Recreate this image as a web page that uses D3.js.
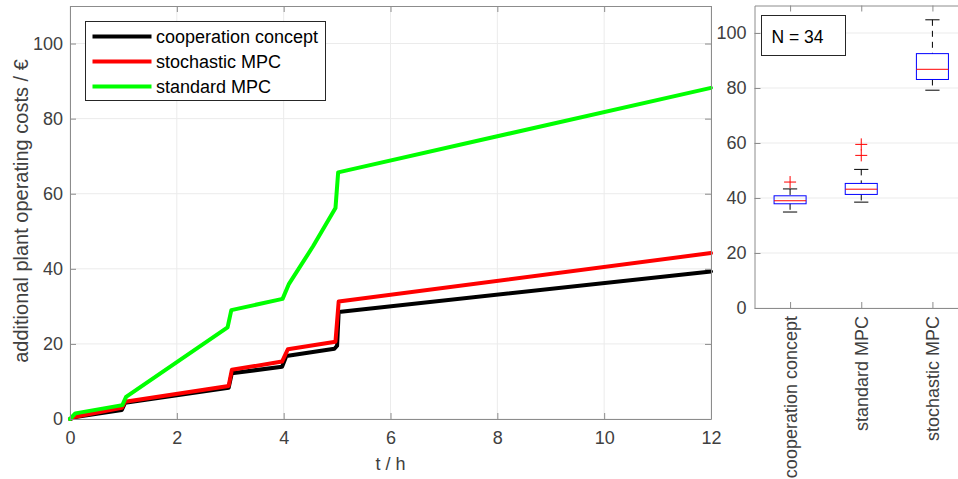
<!DOCTYPE html>
<html>
<head>
<meta charset="utf-8">
<script src="https://cdn.jsdelivr.net/npm/d3@7"></script>
<style>
  body { margin: 0; background: #fff; }
  svg { display: block; font-family: "Liberation Sans", Arial, sans-serif; }
</style>
</head>
<body>
<svg id="chart" width="958" height="479"></svg>
<script>
// time series (t in h, cost in €)
var coopT    = [0, 0.1, 0.97, 1.03, 2.97, 3.03, 3.97, 4.05, 4.95, 5.0, 5.03, 12];
var coopCost = [0, 0.5, 2.4, 4.3, 8.3, 12.2, 13.9, 16.8, 18.7, 19.5, 28.5, 39.3];
var stochT    = [0, 0.1, 0.97, 1.03, 2.97, 3.03, 3.97, 4.08, 4.97, 5.03, 12];
var stochCost = [0, 0.6, 3.0, 4.6, 8.8, 13.1, 15.3, 18.6, 20.6, 31.3, 44.2];
var stdT    = [0, 0.1, 0.98, 1.05, 2.95, 3.02, 3.98, 4.1, 4.55, 4.97, 5.02, 12];
var stdCost = [0, 1.5, 3.7, 5.9, 24.4, 29.0, 32.0, 36.0, 46.0, 56.2, 65.7, 88.2];
var seriesNames  = ['cooperation concept', 'stochastic MPC', 'standard MPC'];
var seriesColors = ['#000000', '#ff0000', '#00ff00'];

// box plot statistics (N = 34)
var boxCats     = ['cooperation concept', 'standard MPC', 'stochastic MPC'];
var boxLowWhisk = [34.9, 38.5, 79.2];
var boxQ1       = [37.9, 41.3, 83.1];
var boxMedian   = [39.0, 43.2, 86.8];
var boxQ3       = [40.8, 45.3, 92.5];
var boxHighWhisk= [43.3, 50.4, 104.8];
var boxOutliers = [[45.8], [55.5, 59.5], []];

var xTicks = [0, 2, 4, 6, 8, 10, 12];
var yTicks = [0, 20, 40, 60, 80, 100];

var svg = d3.select('#chart');
var axisCol = '#8c8c8c', textCol = '#404040', gridCol = '#ebebeb';

// ---------- left axes ----------
var L = {left: 70, right: 711, top: 6, bottom: 419};
var x = d3.scaleLinear().domain([0, 12]).range([L.left, L.right]);
var y = d3.scaleLinear().domain([0, 110]).range([L.bottom, L.top]);

var gl = svg.append('g');
gl.selectAll('.vg').data(xTicks).enter().append('line')
  .attr('x1', function(d) { return x(d); }).attr('x2', function(d) { return x(d); })
  .attr('y1', L.top).attr('y2', L.bottom).attr('stroke', gridCol);
gl.selectAll('.hg').data(yTicks).enter().append('line')
  .attr('y1', function(d) { return y(d); }).attr('y2', function(d) { return y(d); })
  .attr('x1', L.left).attr('x2', L.right).attr('stroke', gridCol);

var line = d3.line().x(function(d) { return x(d[0]); }).y(function(d) { return y(d[1]); });
var series = [d3.zip(coopT, coopCost), d3.zip(stochT, stochCost), d3.zip(stdT, stdCost)];
gl.selectAll('.ser').data(series).enter().append('path')
  .attr('d', line).attr('fill', 'none')
  .attr('stroke', function(d, i) { return seriesColors[i]; })
  .attr('stroke-width', 4).attr('stroke-linejoin', 'round').attr('stroke-linecap', 'round');

function styleAxis(g) {
  g.selectAll('path.domain').attr('stroke', axisCol);
  g.selectAll('.tick line').attr('stroke', axisCol);
  g.selectAll('.tick text').attr('fill', textCol).style('font-size', '18px')
    .style('font-family', '"Liberation Sans", Arial, sans-serif');
}
gl.append('g').attr('transform', 'translate(0,' + L.bottom + ')')
  .call(d3.axisBottom(x).tickValues(xTicks).tickSize(-6).tickPadding(12).tickSizeOuter(0)).call(styleAxis);
gl.append('g').attr('transform', 'translate(0,' + L.top + ')')
  .call(d3.axisTop(x).tickValues(xTicks).tickSize(-6).tickFormat('').tickSizeOuter(0)).call(styleAxis);
gl.append('g').attr('transform', 'translate(' + L.left + ',0)')
  .call(d3.axisLeft(y).tickValues(yTicks).tickSize(-6).tickPadding(7).tickSizeOuter(0)).call(styleAxis);
gl.append('g').attr('transform', 'translate(' + L.right + ',0)')
  .call(d3.axisRight(y).tickValues(yTicks).tickSize(-6).tickFormat('').tickSizeOuter(0)).call(styleAxis);

gl.append('text').attr('x', (L.left + L.right) / 2).attr('y', 470).attr('text-anchor', 'middle')
  .attr('fill', textCol).style('font-size', '18px').text('t / h');
gl.append('text').attr('transform', 'translate(28,211) rotate(-90)')
  .attr('text-anchor', 'middle').attr('fill', textCol).style('font-size', '20px')
  .text('additional plant operating costs / €');

// legend
var lg = gl.append('g').attr('transform', 'translate(85.5,21.5)');
lg.append('rect').attr('width', 240).attr('height', 79).attr('fill', '#fff').attr('stroke', '#262626');
seriesNames.forEach(function(n, i) {
  var yy = 15 + i * 25;
  lg.append('line').attr('x1', 7).attr('x2', 66).attr('y1', yy).attr('y2', yy)
    .attr('stroke', seriesColors[i]).attr('stroke-width', 4);
  lg.append('text').attr('x', 70.5).attr('y', yy + 6.5).attr('fill', '#000').style('font-size', '18px').text(n);
});

// ---------- right axes (box plot) ----------
var R = {left: 754.5, right: 968, top: 5.5, bottom: 308};
var bx = d3.scaleLinear().domain([0.5, 3.5]).range([R.left, R.right]);
var by = d3.scaleLinear().domain([0, 110]).range([R.bottom, R.top]);
var gr = svg.append('g');
gr.selectAll('.hg').data(yTicks).enter().append('line')
  .attr('y1', function(d) { return by(d); }).attr('y2', function(d) { return by(d); })
  .attr('x1', R.left).attr('x2', R.right).attr('stroke', gridCol);

var boxW = 0.45, capW = 0.2;
boxCats.forEach(function(c, i) {
  var cx = bx(i + 1);
  var g = gr.append('g');
  g.append('line').attr('x1', cx).attr('x2', cx).attr('y1', by(boxHighWhisk[i])).attr('y2', by(boxQ3[i]))
    .attr('stroke', '#000').attr('stroke-dasharray', '6,5');
  g.append('line').attr('x1', cx).attr('x2', cx).attr('y1', by(boxQ1[i])).attr('y2', by(boxLowWhisk[i]))
    .attr('stroke', '#000').attr('stroke-dasharray', '6,5');
  [boxHighWhisk[i], boxLowWhisk[i]].forEach(function(v) {
    g.append('line').attr('x1', bx(i + 1 - capW / 2)).attr('x2', bx(i + 1 + capW / 2))
      .attr('y1', by(v)).attr('y2', by(v)).attr('stroke', '#000');
  });
  g.append('rect').attr('x', bx(i + 1 - boxW / 2)).attr('width', bx(boxW) - bx(0))
    .attr('y', by(boxQ3[i])).attr('height', by(boxQ1[i]) - by(boxQ3[i]))
    .attr('fill', 'none').attr('stroke', '#0000ff');
  g.append('line').attr('x1', bx(i + 1 - boxW / 2)).attr('x2', bx(i + 1 + boxW / 2))
    .attr('y1', by(boxMedian[i])).attr('y2', by(boxMedian[i])).attr('stroke', '#ff0000');
  boxOutliers[i].forEach(function(v) {
    g.append('path').attr('d', 'M' + (cx - 6) + ',' + by(v) + 'H' + (cx + 6) + 'M' + cx + ',' + (by(v) - 6) + 'V' + (by(v) + 6))
      .attr('stroke', '#ff0000').attr('fill', 'none');
  });
});

gr.append('g').attr('transform', 'translate(0,' + R.bottom + ')')
  .call(d3.axisBottom(bx).tickValues([1, 2, 3]).tickSize(-6).tickSizeOuter(0).tickFormat(''))
  .call(styleAxis);
gr.append('g').attr('transform', 'translate(0,' + R.top + ')')
  .call(d3.axisTop(bx).tickValues([1, 2, 3]).tickSize(-6).tickSizeOuter(0).tickFormat(''))
  .call(styleAxis);
gr.append('g').attr('transform', 'translate(' + R.left + ',0)')
  .call(d3.axisLeft(by).tickValues(yTicks).tickSize(-6).tickPadding(8).tickSizeOuter(0)).call(styleAxis);
gr.selectAll('.cat').data(boxCats).enter().append('text')
  .attr('transform', function(d, i) { return 'translate(' + (bx(i + 1) + 6.5) + ',' + (R.bottom + 8) + ') rotate(-90)'; })
  .attr('text-anchor', 'end').attr('fill', textCol).style('font-size', '18px').text(function(d) { return d; });

var nb = gr.append('g').attr('transform', 'translate(761.5,15.5)');
nb.append('rect').attr('width', 84).attr('height', 40).attr('fill', '#fff').attr('stroke', '#262626');
nb.append('text').attr('x', 10).attr('y', 27).attr('fill', '#000').style('font-size', '17.5px').text('N = 34');
</script>
</body>
</html>
